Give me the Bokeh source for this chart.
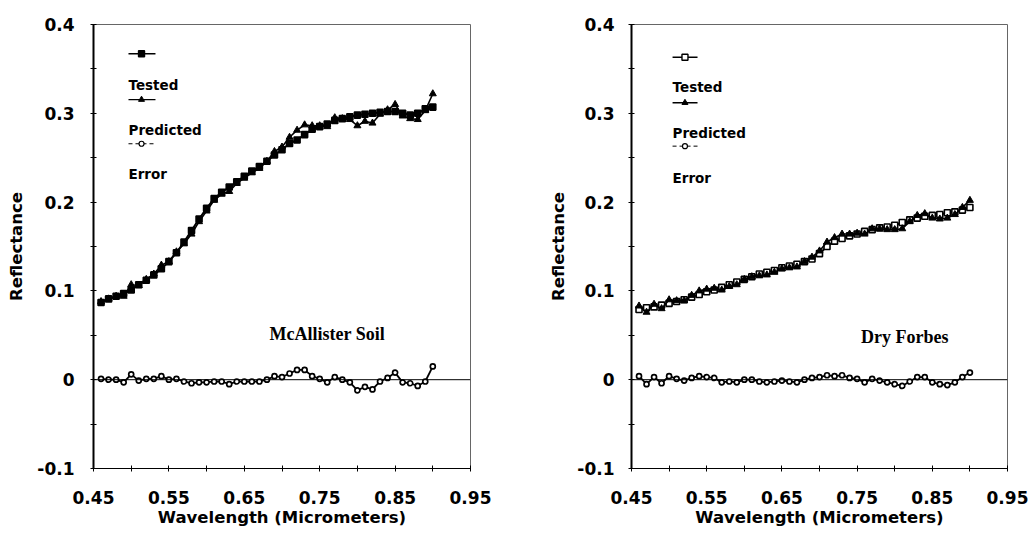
from bokeh.plotting import figure
from bokeh.layouts import row
from bokeh.models import Range1d, FixedTicker, Span, PrintfTickFormatter, ColumnDataSource
from bokeh.core.properties import value
from bokeh.embed import file_html
from bokeh.resources import INLINE

# Wavelength of each sample (micrometers)
wavelength = [0.46, 0.47, 0.48, 0.49, 0.50, 0.51, 0.52, 0.53, 0.54, 0.55,
              0.56, 0.57, 0.58, 0.59, 0.60, 0.61, 0.62, 0.63, 0.64, 0.65,
              0.66, 0.67, 0.68, 0.69, 0.70, 0.71, 0.72, 0.73, 0.74, 0.75,
              0.76, 0.77, 0.78, 0.79, 0.80, 0.81, 0.82, 0.83, 0.84, 0.85,
              0.86, 0.87, 0.88, 0.89, 0.90]

# McAllister Soil
soil_tested = [0.087, 0.091, 0.094, 0.097, 0.101, 0.107, 0.112, 0.118, 0.125, 0.133,
               0.143, 0.155, 0.168, 0.181, 0.193, 0.204, 0.211, 0.217, 0.223, 0.229,
               0.235, 0.240, 0.246, 0.253, 0.259, 0.266, 0.270, 0.276, 0.282, 0.285,
               0.288, 0.292, 0.294, 0.296, 0.298, 0.299, 0.300, 0.301, 0.302, 0.302,
               0.300, 0.298, 0.300, 0.305, 0.307]
soil_predicted = [0.088, 0.091, 0.094, 0.094, 0.107, 0.106, 0.113, 0.119, 0.129, 0.133,
                  0.144, 0.153, 0.164, 0.178, 0.190, 0.202, 0.209, 0.212, 0.221, 0.227,
                  0.233, 0.238, 0.246, 0.257, 0.262, 0.273, 0.281, 0.287, 0.286, 0.286,
                  0.285, 0.295, 0.294, 0.293, 0.286, 0.291, 0.289, 0.299, 0.304, 0.310,
                  0.297, 0.294, 0.293, 0.303, 0.322]
soil_error = [0.001, 0.000, 0.000, -0.003, 0.006, -0.001, 0.001, 0.001, 0.004, 0.000,
              0.001, -0.002, -0.004, -0.003, -0.003, -0.002, -0.002, -0.005, -0.002, -0.002,
              -0.002, -0.002, 0.000, 0.004, 0.003, 0.007, 0.011, 0.011, 0.004, 0.001,
              -0.003, 0.003, 0.000, -0.003, -0.012, -0.008, -0.011, -0.002, 0.002, 0.008,
              -0.003, -0.004, -0.007, -0.002, 0.015]

# Dry Forbes
forbes_tested = [0.079, 0.081, 0.082, 0.084, 0.086, 0.088, 0.090, 0.093, 0.096, 0.099,
                 0.101, 0.104, 0.107, 0.110, 0.113, 0.116, 0.119, 0.121, 0.123, 0.126,
                 0.128, 0.130, 0.133, 0.136, 0.142, 0.150, 0.156, 0.159, 0.162, 0.164,
                 0.167, 0.169, 0.171, 0.172, 0.174, 0.177, 0.180, 0.182, 0.184, 0.185,
                 0.186, 0.188, 0.189, 0.191, 0.194]
forbes_predicted = [0.083, 0.076, 0.085, 0.080, 0.090, 0.089, 0.089, 0.095, 0.100, 0.102,
                    0.103, 0.101, 0.105, 0.107, 0.113, 0.116, 0.117, 0.118, 0.121, 0.125,
                    0.126, 0.127, 0.133, 0.138, 0.145, 0.155, 0.160, 0.164, 0.164, 0.165,
                    0.164, 0.170, 0.170, 0.169, 0.169, 0.170, 0.178, 0.185, 0.187, 0.182,
                    0.181, 0.182, 0.186, 0.194, 0.202]
forbes_error = [0.004, -0.005, 0.003, -0.004, 0.004, 0.001, -0.001, 0.002, 0.004, 0.003,
                0.002, -0.003, -0.002, -0.003, 0.000, 0.000, -0.002, -0.003, -0.002, -0.001,
                -0.002, -0.003, 0.000, 0.002, 0.003, 0.005, 0.004, 0.005, 0.002, 0.001,
                -0.003, 0.001, -0.001, -0.003, -0.005, -0.007, -0.002, 0.003, 0.003, -0.003,
                -0.005, -0.006, -0.003, 0.003, 0.008]

x_ticks = [0.45, 0.55, 0.65, 0.75, 0.85, 0.95]
x_minor = [0.50, 0.60, 0.70, 0.80, 0.90]
y_ticks = [-0.1, 0, 0.1, 0.2, 0.3, 0.4]
y_minor = [-0.05, 0.05, 0.15, 0.25, 0.35]

SANS = "DejaVu Sans"
SERIF = "Liberation Serif"


def make_panel(tested, predicted, error, name, name_at, legend, tested_fill,
               border_left, border_top, border_right, y_standoff, ylabel_standoff):
    p = figure(width=514, height=537, output_backend="svg", toolbar_location=None,
               x_range=Range1d(0.45, 0.95), y_range=Range1d(-0.1, 0.4),
               min_border_left=border_left, min_border_right=border_right,
               min_border_top=border_top, min_border_bottom=537 - 468)
    p.grid.visible = False
    p.background_fill_color = "white"
    p.border_fill_color = "white"
    p.outline_line_color = "#666666"
    p.outline_line_width = 1

    p.xaxis.ticker = FixedTicker(ticks=x_ticks, minor_ticks=x_minor)
    p.yaxis.ticker = FixedTicker(ticks=y_ticks, minor_ticks=y_minor)
    p.xaxis.formatter = PrintfTickFormatter(format="%.2f")
    p.yaxis.formatter = PrintfTickFormatter(format="%.1f")
    p.yaxis.major_label_overrides = {0: "0"}

    for ax in (p.xaxis[0], p.yaxis[0]):
        ax.major_tick_in = 3
        ax.major_tick_out = 3
        ax.minor_tick_in = 3
        ax.minor_tick_out = 3
        ax.major_tick_line_color = "black"
        ax.minor_tick_line_color = "black"
        ax.axis_line_color = "black"
        ax.major_label_text_font = SANS
        ax.major_label_text_font_style = "bold"
        ax.major_label_text_font_size = "17px"
        ax.major_label_text_color = "black"
        ax.axis_label_text_font = SANS
        ax.axis_label_text_font_style = "bold"
        ax.axis_label_text_font_size = "16.5px"
        ax.axis_label_text_color = "black"

    p.yaxis.axis_line_width = 2
    p.xaxis.axis_line_width = 1
    p.xaxis.axis_label = "Wavelength (Micrometers)"
    p.yaxis.axis_label = "Reflectance"
    p.xaxis.major_label_standoff = 19
    p.xaxis.axis_label_standoff = 1
    p.yaxis.major_label_standoff = y_standoff
    p.yaxis.axis_label_standoff = ylabel_standoff

    p.add_layout(Span(location=0, dimension="width", line_color="black", line_width=1))

    src = ColumnDataSource(dict(x=wavelength, tested=tested, predicted=predicted, error=error))

    # measured spectrum
    p.line("x", "tested", source=src, line_color="black", line_width=2)
    p.scatter("x", "tested", source=src, marker="square", size=6,
              line_color="black", line_width=1.6, fill_color=tested_fill)
    # model prediction
    p.line("x", "predicted", source=src, line_color="black", line_width=1.6)
    p.scatter("x", "predicted", source=src, marker="triangle", size=7,
              line_color="black", fill_color="black")
    # difference between prediction and measurement
    p.line("x", "error", source=src, line_color="black", line_width=1.8)
    p.scatter("x", "error", source=src, marker="circle", size=5,
              line_color="black", line_width=1.7, fill_color="white")

    # sample name
    p.text(x=[name_at[0]], y=[name_at[1]], text=[name], text_font=value(SERIF),
           text_font_style="bold", text_font_size="18px", text_align="center",
           text_baseline="alphabetic", text_color="black")

    # legend: key sample drawn above each label
    x0, x1, xm = legend["x0"], legend["x1"], legend["xm"]
    k1, k2, k3 = legend["keys"]
    p.line([x0, x1], [k1, k1], line_color="black", line_width=1.4)
    p.scatter([xm], [k1], marker="square", size=6, line_color="black",
              line_width=1.4, fill_color=tested_fill)
    p.line([x0, x1], [k2, k2], line_color="black", line_width=1.4)
    p.scatter([xm], [k2], marker="triangle", size=6, line_color="black", fill_color="black")
    p.line([x0, x1], [k3, k3], line_color="black", line_width=1, line_dash="4 3")
    p.scatter([xm], [k3], marker="circle", size=5, line_color="black",
              line_width=1.2, fill_color="white")
    p.text(x=[x0] * 3, y=legend["labels_y"], text=["Tested", "Predicted", "Error"],
           text_font=value(SANS), text_font_style="bold", text_font_size="13.5px",
           text_align="left", text_baseline="alphabetic", text_color="black")
    return p


left = make_panel(soil_tested, soil_predicted, soil_error, "McAllister Soil", (0.760, 0.052),
                  dict(x0=0.4964, x1=0.5322, xm=0.5137, keys=[0.367, 0.3154, 0.2657],
                       labels_y=[0.3318, 0.2814, 0.2321]),
                  "black", 93, 22, 44, 16, 8)
right = make_panel(forbes_tested, forbes_predicted, forbes_error, "Dry Forbes", (0.8135, 0.0485),
                   dict(x0=0.5046, x1=0.5378, xm=0.5211, keys=[0.3631, 0.3119, 0.263],
                        labels_y=[0.3292, 0.278, 0.2277]),
                   "white", 117, 24, 21, 14, 6)

layout = row(left, right, spacing=0)
open("out.html", "w").write(file_html(layout, INLINE))
